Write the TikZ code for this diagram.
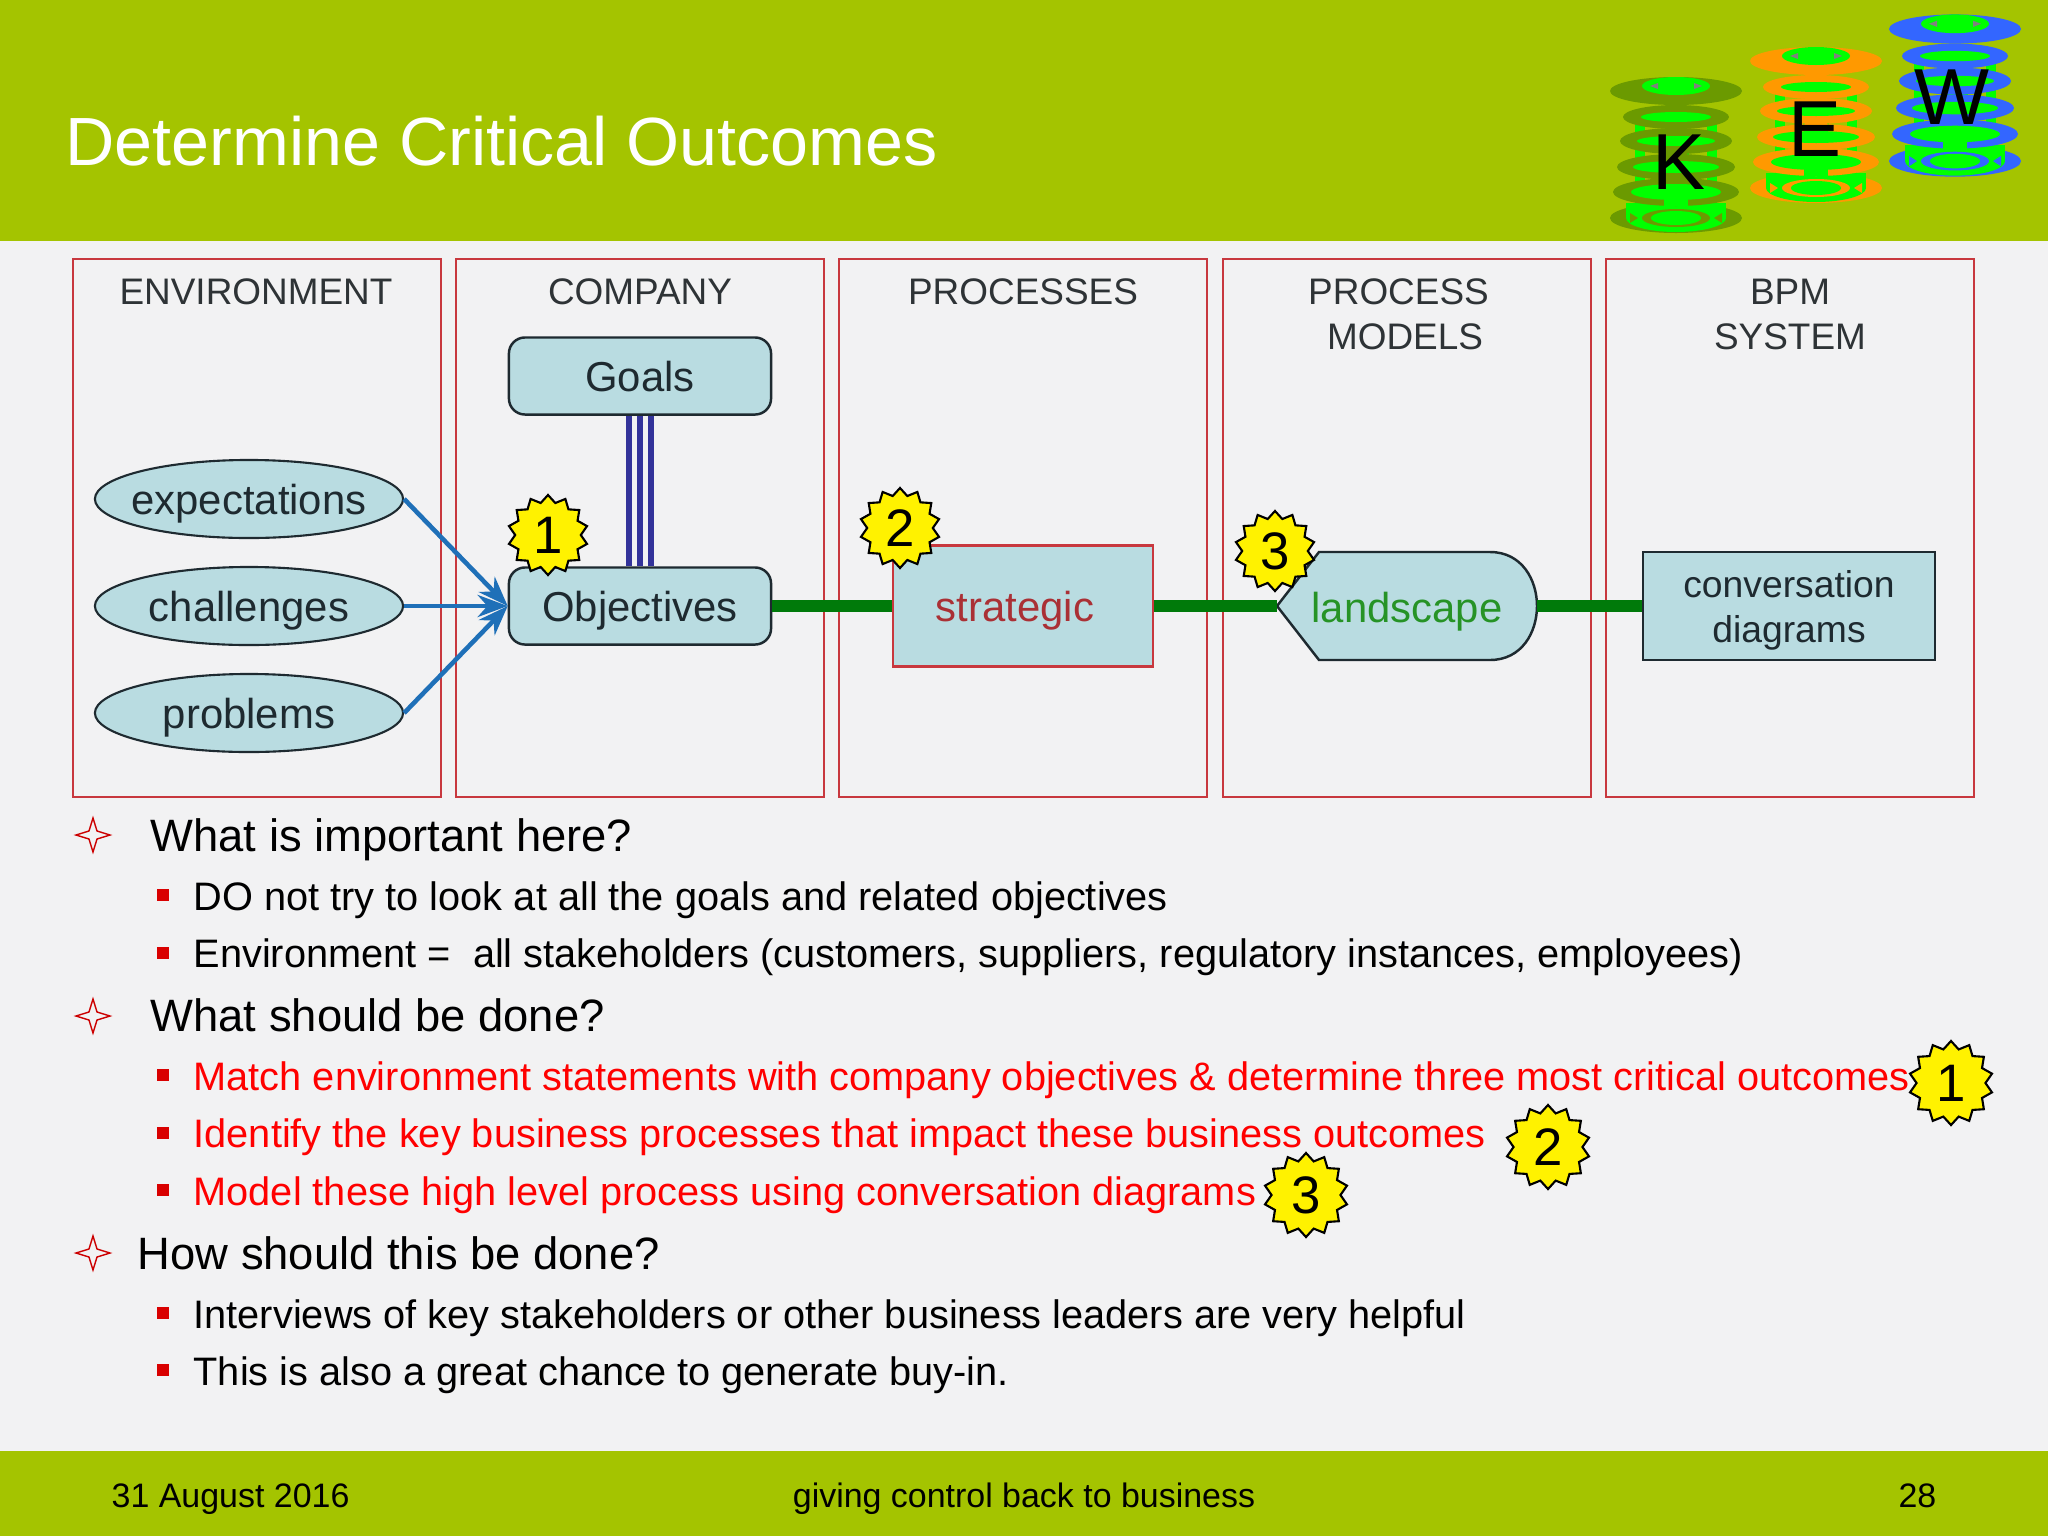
\documentclass[tikz,border=0pt]{standalone}
\usepackage{fontspec}
\setmainfont{Liberation Sans}
\usetikzlibrary{arrows.meta,shapes.geometric}
\definecolor{barcol}{HTML}{A4C400}
\definecolor{pagecol}{HTML}{F2F2F3}
\definecolor{panelcol}{HTML}{C8383E}
\definecolor{boxcol}{HTML}{B9DCE1}
\definecolor{inkcol}{HTML}{1E2A30}
\definecolor{headcol}{HTML}{2E3336}
\definecolor{flowcol}{HTML}{1F70B8}
\definecolor{linkcol}{HTML}{007A0A}
\definecolor{goalcol}{HTML}{33339A}
\definecolor{kewolive}{HTML}{6B9A00}
\definecolor{keworange}{HTML}{FF9900}
\definecolor{kewblue}{HTML}{3366FF}
\definecolor{kewgreen}{HTML}{00FF00}
\begin{document}
\begin{tikzpicture} [x=0.01cm,y=-0.01cm,{panel/.style={rectangle,draw=panelcol,line width=0.6pt,minimum width=3.68cm,minimum height=5.37cm}},{headtext/.style={text=headcol,align=center,anchor=north,font=\fontsize{10.5}{12.8}\selectfont}},{oval/.style={ellipse,draw=inkcol,fill=boxcol,line width=0.6pt,minimum width=3.08cm,minimum height=0.78cm,inner xsep=-1cm,inner ysep=-0.2cm,text depth=0pt,text=inkcol,font=\fontsize{11.9}{14}\selectfont}},{roundbox/.style={rectangle,rounded corners=1.6mm,draw=inkcol,fill=boxcol,line width=0.7pt,minimum width=2.62cm,minimum height=0.77cm,text depth=0pt,text=inkcol,font=\fontsize{11.9}{14}\selectfont}},{burst/.style={star,star points=14,star point ratio=1.22,draw=black,fill=yellow,line width=0.6pt,minimum size=0.8cm,inner sep=0pt,font=\fontsize{15}{15}\selectfont}},{flow/.style={draw=flowcol,line width=1.3pt,-{Stealth[length=3mm,width=2.2mm]}}},{greenlink/.style={draw=linkcol,line width=3.4pt}},{goalline/.style={draw=goalcol,line width=1.6pt}},{mainitem/.style={anchor=base west,inner sep=0pt,font=\fontsize{12.9}{15}\selectfont}},{subitem/.style={anchor=base west,inner sep=0pt,font=\fontsize{11.3}{13}\selectfont}},{reditem/.style={subitem,text=red}},{diamondmark/.style={star,star points=4,star point ratio=3,draw=red!80!black,line width=0.4pt,minimum size=0.34cm,inner sep=0pt}},{squaremark/.style={rectangle,fill=red!85!black,minimum size=0.12cm,inner sep=0pt}},{foottext/.style={inner sep=0pt,font=\fontsize{9.65}{12}\selectfont}},{logotext/.style={font=\fontsize{22.6}{24}\selectfont}}]
		%%page and bars
		\fill [pagecol] (0,0) rectangle (2048,1536);
		\fill [barcol] (0,0) rectangle (2048,241);
		\fill [barcol] (0,1451) rectangle (2048,1536);
		\node at (65,141) [anchor=west,inner sep=0pt,text=white,font=\fontsize{19.4}{22}\selectfont] (title) {Determine Critical Outcomes};
		%%logo stacks
		\foreach \lx/\ly/\ls/\lc in {1676/91/1/kewolive,1816/61/1/keworange,1955/29/1.04/kewblue}{
			\begin{scope}[shift={(\lx,\ly)},yscale=\ls]
				\fill [\lc] (0,127) ellipse [x radius=66,y radius=15];
				\fill [kewgreen] (-50,112) rectangle (50,127);
				\fill [kewgreen] (0,127) ellipse [x radius=50,y radius=14];
				\fill [\lc] (0,127) ellipse [x radius=34,y radius=9];
				\fill [kewgreen] (0,127) ellipse [x radius=25,y radius=7];
				\fill [\lc] (-46,122) -- (-38,127) -- (-46,132) -- cycle;
				\fill [\lc] (46,122) -- (38,127) -- (46,132) -- cycle;
				\fill [kewgreen] (-41,26) rectangle (-31,112);
				\fill [kewgreen] (31,26) rectangle (41,112);
				\fill [kewgreen] (-13,60) rectangle (13,112);
				\fill [\lc] (0,101) ellipse [x radius=63,y radius=14];
				\fill [kewgreen] (0,101) ellipse [x radius=45,y radius=8];
				\fill [kewgreen] (-12,101) rectangle (12,115);
				\fill [\lc] (0,76) ellipse [x radius=59,y radius=13];
				\fill [kewgreen] (0,76) ellipse [x radius=43,y radius=6];
				\fill [\lc] (0,50) ellipse [x radius=56,y radius=13];
				\fill [kewgreen] (0,50) ellipse [x radius=39,y radius=5];
				\fill [\lc] (0,26) ellipse [x radius=53,y radius=12];
				\fill [kewgreen] (0,26) ellipse [x radius=35,y radius=5];
				\fill [\lc] (0,0) ellipse [x radius=66,y radius=14];
				\fill [kewgreen] (0,-5) ellipse [x radius=34,y radius=9];
				\fill [gray] (-26,-5) -- (-18,-8) -- (-18,-2) -- cycle;
				\fill [gray] (26,-5) -- (18,-8) -- (18,-2) -- cycle;
			\end{scope}
		}
		\node at (1679,162) [logotext] (logok) {K};
		\node at (1815,129) [logotext] (logoe) {E};
		\node at (1952,97) [logotext] (logow) {W};
		%%panels
		\node at (257,528) [panel] (envpanel) {};
		\node at (640,528) [panel] (companypanel) {};
		\node at (1023,528) [panel] (processpanel) {};
		\node at (1407,528) [panel] (modelpanel) {};
		\node at (1790,528) [panel] (bpmpanel) {};
		\node at (256,266) [headtext] (envhead) {ENVIRONMENT};
		\node at (640,266) [headtext] (companyhead) {COMPANY};
		\node at (1023,266) [headtext] (processhead) {PROCESSES};
		\node at (1405,266) [headtext] (modelhead) {PROCESS\hspace*{0.13cm}\\MODELS};
		\node at (1790,267) [headtext] (bpmhead) {BPM\\SYSTEM};
		%%diagram nodes
		\node at (249,499) [oval] (expect) {expectations};
		\node at (249,606) [oval] (challenge) {challenges};
		\node at (249,713) [oval] (problem) {problems};
		\node at (640,376) [roundbox] (goals) {Goals};
		\node at (640,606) [roundbox] (objectives) {Objectives};
		\node at (1023,606) [rectangle,draw=panelcol,fill=boxcol,line width=0.8pt,minimum width=2.6cm,minimum height=1.21cm,text depth=0pt,text=panelcol!85!black,font=\fontsize{11.9}{14}\selectfont] (strategic) {strategic\hspace*{0.16cm}};
		\coordinate (landtip) at (1277,606);
		\coordinate (landend) at (1537,606);
		\draw [draw=inkcol,fill=boxcol,line width=0.7pt] (landtip) -- (1319,552) -- (1490,552) .. controls (1522,552) and (1537,580) .. (landend) .. controls (1537,632) and (1522,660) .. (1490,660) -- (1319,660) -- cycle;
		\node at (1407,607) [text depth=0pt,text=green!50!black!85!white,font=\fontsize{11.9}{14}\selectfont] (landscape) {landscape};
		\node at (1789,606) [rectangle,draw=inkcol,fill=boxcol,line width=0.7pt,minimum width=2.92cm,minimum height=1.08cm,align=center,text depth=0pt,text=inkcol,font=\fontsize{10.6}{12.8}\selectfont] (conversation) {conversation\\diagrams};
		%%connectors
		\draw [flow] (expect.east) -- (objectives.west);
		\draw [flow] (challenge.east) -- (objectives.west);
		\draw [flow] (problem.east) -- (objectives.west);
		\draw [goalline] ([xshift=-0.11cm]goals.south) -- ([xshift=-0.11cm]objectives.north);
		\draw [goalline] (goals) -- (objectives);
		\draw [goalline] ([xshift=0.11cm]goals.south) -- ([xshift=0.11cm]objectives.north);
		\draw [greenlink] (objectives) -- (strategic);
		\draw [greenlink] (strategic) -- (landtip);
		\draw [greenlink] (landend) -- (conversation);
		\node at (548,535) [burst] (burstone) {1};
		\node at (900,528) [burst] (bursttwo) {2};
		\node at (1275,551) [burst] (burstthree) {3};
		%%text items
		\node at (93,835) [diamondmark] (markone) {};
		\node at (150,851) [mainitem] (itemone) {What is important here?};
		\node at (163,895) [squaremark] (marktwo) {};
		\node at (193,910) [subitem] (itemtwo) {DO not try to look at all the goals and related objectives};
		\node at (163,953) [squaremark] (markthree) {};
		\node at (193,967) [subitem] (itemthree) {Environment =\ \ all stakeholders (customers, suppliers, regulatory instances, employees)};
		\node at (93,1016) [diamondmark] (markfour) {};
		\node at (150,1031) [mainitem] (itemfour) {What should be done?};
		\node at (163,1075) [squaremark] (markfive) {};
		\node at (193,1090) [reditem] (itemfive) {Match environment statements with company objectives \& determine three most critical outcomes};
		\node at (163,1133) [squaremark] (marksix) {};
		\node at (193,1147) [reditem] (itemsix) {Identify the key business processes that impact these business outcomes};
		\node at (163,1190) [squaremark] (markseven) {};
		\node at (193,1205) [reditem] (itemseven) {Model these high level process using conversation diagrams};
		\node at (93,1253) [diamondmark] (markeight) {};
		\node at (137,1269) [mainitem] (itemeight) {How should this be done?};
		\node at (163,1313) [squaremark] (marknine) {};
		\node at (193,1328) [subitem] (itemnine) {Interviews of key stakeholders or other business leaders are very helpful};
		\node at (163,1370) [squaremark] (markten) {};
		\node at (193,1385) [subitem] (itemten) {This is also a great chance to generate buy-in.};
		\node at (1951,1083) [burst,minimum size=0.84cm] (burstfour) {1};
		\node at (1548,1147) [burst,minimum size=0.84cm] (burstfive) {2};
		\node at (1306,1195) [burst,minimum size=0.84cm] (burstsix) {3};
		%%footer
		\node at (111,1499) [foottext,anchor=west] (footdate) {31 August 2016};
		\node at (1024,1499) [foottext] (footmid) {giving control back to business};
		\node at (1937,1496) [foottext,anchor=east] (footpage) {28};
	\end{tikzpicture}
\end{document}
